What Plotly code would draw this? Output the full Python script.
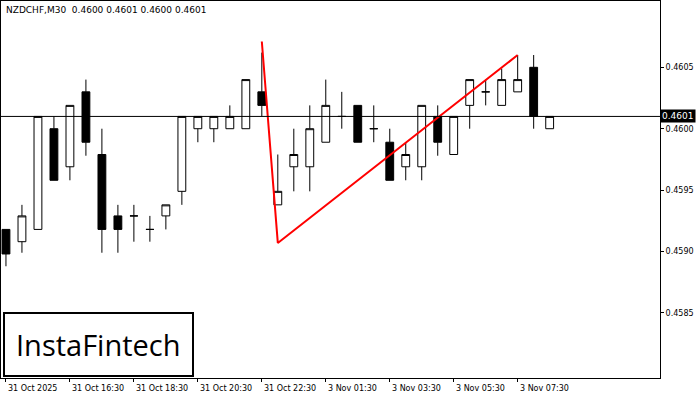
import plotly.graph_objects as go

# candle data, NZDCHF M30
opens  = [0.45918, 0.45908, 0.45918, 0.46000, 0.45969, 0.46030, 0.45979, 0.45929, 0.45929, 0.45918,
          0.45929, 0.45949, 0.46000, 0.46000, 0.46000, 0.46000, 0.46030, 0.45938, 0.45969, 0.45969,
          0.45989, 0.46010, 0.46019, 0.46000, 0.45989, 0.45969, 0.45969, 0.46010, 0.45979, 0.46019,
          0.46030, 0.46019, 0.46030, 0.46050, 0.46000]
closes = [0.45898, 0.45929, 0.46010, 0.45958, 0.46019, 0.45989, 0.45918, 0.45918, 0.45929, 0.45918,
          0.45938, 0.46010, 0.46010, 0.46010, 0.46010, 0.46040, 0.46019, 0.45949, 0.45979, 0.46000,
          0.46019, 0.46010, 0.45989, 0.46000, 0.45958, 0.45979, 0.46019, 0.45989, 0.46010, 0.46040,
          0.46030, 0.46040, 0.46040, 0.46010, 0.46010]
highs  = [0.45918, 0.45938, 0.46010, 0.46010, 0.46019, 0.46040, 0.46000, 0.45938, 0.45938, 0.45929,
          0.45938, 0.46010, 0.46010, 0.46010, 0.46019, 0.46040, 0.46062, 0.45979, 0.46000, 0.46019,
          0.46040, 0.46030, 0.46019, 0.46019, 0.46000, 0.45989, 0.46019, 0.46019, 0.46010, 0.46040,
          0.46040, 0.46049, 0.46060, 0.46060, 0.46010]
lows   = [0.45888, 0.45899, 0.45918, 0.45958, 0.45958, 0.45978, 0.45899, 0.45899, 0.45908, 0.45908,
          0.45918, 0.45938, 0.45989, 0.45989, 0.46000, 0.46000, 0.46010, 0.45938, 0.45949, 0.45949,
          0.45989, 0.46000, 0.45989, 0.45989, 0.45958, 0.45958, 0.45958, 0.45978, 0.45979, 0.46000,
          0.46019, 0.46019, 0.46030, 0.46000, 0.46000]
idx = list(range(len(opens)))

tick_pos = [0, 4, 8, 12, 16, 20, 24, 28, 32]
tick_text = ["31 Oct 2025", "31 Oct 16:30", "31 Oct 18:30", "31 Oct 20:30", "31 Oct 22:30",
             "3 Nov 01:30", "3 Nov 03:30", "3 Nov 05:30", "3 Nov 07:30"]

# pattern line
pat_x = [16, 17, 32]
pat_y = [0.46071, 0.45907, 0.46060]
last_price = 0.4601

fig = go.Figure()
fig.add_trace(go.Candlestick(
    x=idx, open=opens, high=highs, low=lows, close=closes,
    increasing=dict(line=dict(color="black", width=1), fillcolor="white"),
    decreasing=dict(line=dict(color="black", width=1), fillcolor="black"),
    whiskerwidth=0, showlegend=False, hoverinfo="skip"))
fig.add_trace(go.Scatter(x=pat_x, y=pat_y, mode="lines",
                         line=dict(color="#ff0000", width=2), showlegend=False))

fig.add_hline(y=last_price, line=dict(color="black", width=1))

# time labels start at their tick, as in the terminal
time_labels = [dict(text=t, x=p, xref="x", yref="paper", y=0, yshift=-4,
                    xanchor="left", yanchor="top", showarrow=False, font=dict(size=8))
               for p, t in zip(tick_pos, tick_text)]

fig.update_layout(
    width=700, height=400, margin=dict(l=1, r=40, t=1, b=22),
    paper_bgcolor="white", plot_bgcolor="white",
    font=dict(family="DejaVu Sans", size=8, color="black"),
    xaxis=dict(range=[-0.31, 40.9], tickvals=tick_pos, ticktext=[""] * len(tick_pos),
               showgrid=False, zeroline=False, rangeslider=dict(visible=False),
               showline=True, linecolor="black", mirror=True, ticks="outside",
               ticklen=3, tickcolor="black", automargin=False),
    yaxis=dict(range=[0.45797, 0.46104], side="right",
               tickvals=[0.4585, 0.4590, 0.4595, 0.4600, 0.4605],
               tickformat=".4f", showgrid=False, zeroline=False,
               showline=True, linecolor="black", mirror=True, ticks="outside",
               ticklen=3, tickcolor="black", automargin=False),
    annotations=time_labels + [
        dict(text="NZDCHF,M30  0.4600 0.4601 0.4600 0.4601", xref="paper", yref="paper",
             x=0.005, y=0.995, xanchor="left", yanchor="top", showarrow=False,
             font=dict(size=9)),
        dict(text="0.4601", xref="paper", yref="y", x=1.0, y=last_price,
             xanchor="left", yanchor="middle", showarrow=False,
             bgcolor="black", font=dict(color="white", size=9), borderpad=1),
        dict(text="InstaFintech", xref="paper", yref="paper", x=0.003, y=0.003,
             xanchor="left", yanchor="bottom", showarrow=False,
             font=dict(family="Open Sans", size=29, color="black"),
             bordercolor="black", borderwidth=2, borderpad=11, bgcolor="white"),
    ],
)

fig.write_html("out.html", config={"displayModeBar": False},
               post_script="document.body.style.margin='0';")
